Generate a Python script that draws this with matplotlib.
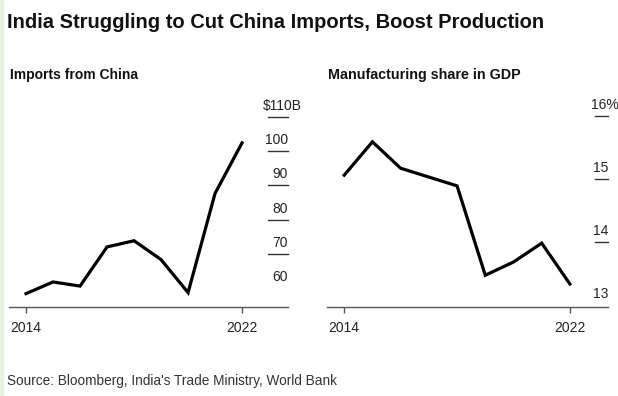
import matplotlib.pyplot as plt
from matplotlib.transforms import blended_transform_factory

plt.rcParams['font.family'] = ['Liberation Sans', 'DejaVu Sans']

years = [2014, 2015, 2016, 2017, 2018, 2019, 2020, 2021, 2022]
imports_bn = [58.5, 61.9, 60.7, 72.1, 73.9, 68.4, 58.8, 87.7, 102.4]
mfg_share = [15.06, 15.59, 15.17, 15.03, 14.89, 13.47, 13.68, 13.98, 13.33]

imports_ticks = [60, 70, 80, 90, 100, 110]
imports_labels = ['60', '70', '80', '90', '100', '$110B']
share_ticks = [13, 14, 15, 16]
share_labels = ['13', '14', '15', '16%']

W, H = 618, 396
fig = plt.figure(figsize=(W / 100, H / 100), dpi=100)
fig.patch.set_facecolor('white')

# thin green strip on the left edge
fig.patches.append(plt.Rectangle((0, 0), 3 / W, 1, transform=fig.transFigure,
                                 color='#e6f2dd', zorder=0))

def px_axes(x0, x1, ytop, ybot):
    return fig.add_axes([x0 / W, 1 - ybot / H, (x1 - x0) / W, (ybot - ytop) / H])

def style(ax, values, ticks, labels, xlim, ylim, tick_x0, skip_lines, top_pos):
    ax.plot(years, values, color='black', lw=2.3, solid_joinstyle='miter', zorder=3)
    ax.set_xlim(*xlim)
    ax.set_ylim(*ylim)
    for s in ['top', 'right', 'left']:
        ax.spines[s].set_visible(False)
    ax.spines['bottom'].set_color('#555555')
    ax.spines['bottom'].set_linewidth(1.0)
    ax.set_yticks([])
    ax.set_xticks([2014, 2022])
    ax.set_xticklabels(['2014', '2022'])
    ax.tick_params(axis='x', length=4, width=1, color='#555555', pad=6,
                   labelsize=10, labelcolor='#222222')
    trans = blended_transform_factory(ax.transAxes, ax.transData)
    for i, (t, lab) in enumerate(zip(ticks, labels)):
        if t not in skip_lines:
            ax.plot([tick_x0, 1.0], [t, t], color='#333333', lw=1.0,
                    transform=trans, clip_on=False)
        # top label carries the unit and sits a little differently
        x, ha = top_pos if i == len(ticks) - 1 else (1.0, 'right')
        ax.annotate(lab, xy=(x, t), xycoords=trans, xytext=(0, 3),
                    textcoords='offset points', ha=ha, va='bottom',
                    fontsize=10, color='#222222', annotation_clip=False)

ax1 = px_axes(9, 288, 116.7, 306.7)
style(ax1, imports_bn, imports_ticks, imports_labels,
      (2013.37, 2023.70), (54.7, 110), 0.928, [60], (1.048, 'right'))

ax2 = px_axes(327, 608, 116, 306.7)
style(ax2, mfg_share, share_ticks, share_labels,
      (2013.39, 2023.35), (12.97, 16), 0.954, [13], (0.94, 'left'))

fig.text(7 / W, 1 - 22 / H, 'India Struggling to Cut China Imports, Boost Production',
         fontsize=14.5, fontweight='bold', color='#111111', va='center', ha='left')
fig.text(10 / W, 1 - 75 / H, 'Imports from China', fontsize=10,
         fontweight='bold', color='#111111', va='center', ha='left')
fig.text(328 / W, 1 - 75 / H, 'Manufacturing share in GDP', fontsize=10.3,
         fontweight='bold', color='#111111', va='center', ha='left')
fig.text(7 / W, 1 - 381 / H, "Source: Bloomberg, India's Trade Ministry, World Bank",
         fontsize=9.8, color='#333333', va='center', ha='left')

fig.savefig('out.png', dpi=100)
